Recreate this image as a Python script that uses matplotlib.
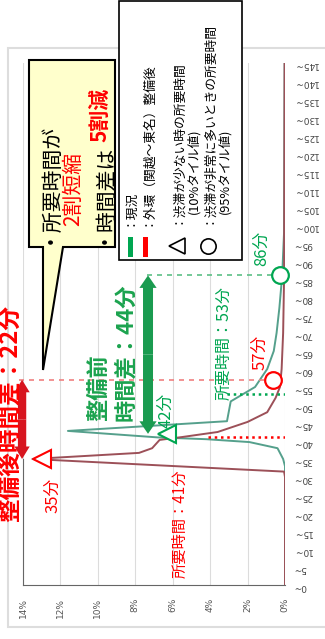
import matplotlib
matplotlib.use('Agg')
import matplotlib.pyplot as plt
from matplotlib.patches import Rectangle, Polygon

# 日本語フォント
plt.rcParams['font.family'] = ['Noto Sans CJK JP', 'DejaVu Sans']

# --- データ ---
minute_ticks = list(range(0, 150, 5))
minute_labels = [f'{m}~' for m in minute_ticks]
pct_ticks = [0, 2, 4, 6, 8, 10, 12, 14]
pct_labels = [f'{v}%' for v in pct_ticks]

# 現況（緑）
before_t = [0, 33, 35, 38, 39.7, 40.5, 41, 42.8, 45.5, 51, 55, 60, 65, 70, 77, 86, 98, 145]
before_p = [0, 0, 0.1, 0.4, 1.9, 4.2, 6.8, 11.6, 3.1, 2.9, 1.6, 0.95, 0.6, 0.45, 0.3, 0.15, 0.05, 0.02]

# 外環整備後（赤）
after_t = [0, 30, 31.5, 35, 36.7, 38, 40.3, 41.1, 42.5, 45.3, 48, 52, 55, 60, 70, 85, 145]
after_p = [0, 0, 0.05, 13.5, 7.8, 7.1, 6.7, 5.5, 3.6, 2.0, 0.95, 0.5, 0.27, 0.18, 0.1, 0.05, 0.02]

# 代表値（分）
before_p10, before_mid, before_p95 = 42, 53, 86
after_p10, after_mid, after_p95 = 35, 41, 57

# 色
RED = '#ff0000'
GREEN = '#00a651'
GREEN_B = '#1ba34e'
RED_ARROW = '#d7151f'

W, H = 325, 639
fig = plt.figure(figsize=(W / 100, H / 100), dpi=100)

# 外枠
frame = fig.add_axes([0, 0, 1, 1], zorder=0)
frame.set_xlim(0, W); frame.set_ylim(H, 0); frame.axis('off')
frame.add_patch(Rectangle((8, 48), 330, 579, fc='white', ec='#dddddd', lw=1.5))

# --- メイングラフ ---
ax = fig.add_axes([23 / W, 1 - 585 / H, 262 / W, 522 / H], zorder=1)
ax.patch.set_alpha(0)
ax.plot(before_p, before_t, color='#55a08c', lw=1.4, zorder=3)
ax.plot(after_p, after_t, color='#9c5058', lw=1.4, zorder=3)
ax.set_xlim(14, 0)
ax.set_ylim(0, 145)
ax.grid(axis='x', color='#dcdcdc', lw=0.8)
ax.set_axisbelow(True)
for s in ['top', 'right']:
    ax.spines[s].set_visible(False)
ax.spines['bottom'].set_color('#666666')
ax.spines['left'].set_color('#666666')
ax.spines['left'].set_bounds(0, after_p10)

ax.yaxis.tick_right()
ax.set_yticks(minute_ticks, minute_labels, rotation=180, fontsize=6.5, color='#444444',
              family='DejaVu Sans')
ax.set_xticks(pct_ticks, pct_labels, rotation=90, fontsize=6.5, color='#555555',
              family='DejaVu Sans')
ax.tick_params(axis='both', length=0)
ax.tick_params(axis='y', pad=6)
ax.tick_params(axis='x', pad=9)

# 補助線
ax.plot([14.2, 0.64], [after_p95] * 2, ls=(0, (3, 3)), color='#f08080', lw=1.2, clip_on=False, zorder=4)
ax.plot([7.4, 0.27], [before_p95] * 2, ls=(0, (3, 3)), color='#5cbf85', lw=1.2, zorder=4)
ax.plot([4.1, 0], [after_mid] * 2, ls=(0, (1, 1.5)), color=RED, lw=1.8, zorder=4)
ax.plot([3.1, 0], [before_mid] * 2, ls=(0, (1, 1.5)), color=GREEN, lw=1.8, zorder=4)

# 矢印（中央から両方向）
def double_arrow(p, t1, t2, color, tw, hw, hl):
    mid = (t1 + t2) / 2
    style = f'simple,tail_width={tw},head_width={hw},head_length={hl}'
    for end in (t1, t2):
        ax.annotate('', xy=(p, end), xytext=(p, mid), annotation_clip=False,
                    arrowprops=dict(arrowstyle=style, color=color, lw=0,
                                    shrinkA=0, shrinkB=0, mutation_scale=20,
                                    clip_on=False), zorder=6)

double_arrow(14.05, after_p95, after_p10, RED_ARROW, 0.3, 0.55, 0.45)
double_arrow(7.32, before_p95, before_p10, '#1a9b50', 0.36, 0.62, 0.45)

# マーカー
ax.plot(0.64, after_p95, 'o', ms=12, mfc='white', mec=RED, mew=1.6, clip_on=False, zorder=7)
ax.plot(0.27, before_p95, 'o', ms=12, mfc='white', mec=GREEN, mew=1.6, clip_on=False, zorder=7)
ax.plot(13.0, after_p10, '<', ms=13, mfc='white', mec=RED, mew=1.5, clip_on=False, zorder=7)
ax.plot(6.3, before_p10, '<', ms=13, mfc='white', mec=GREEN, mew=1.5, clip_on=False, zorder=7)

# --- 注記（ピクセル座標） ---
ov = fig.add_axes([0, 0, 1, 1], zorder=5)
ov.set_xlim(0, W); ov.set_ylim(H, 0); ov.axis('off')
ov.patch.set_alpha(0)

def vtext(x, y, s, **kw):
    return ov.text(x, y, s, rotation=90, ha='center', va='bottom', **kw)

vtext(262, 266, f'{before_p95}分', color=GREEN, fontsize=12)
vtext(224, 400, f'所要時間：{before_mid}分', color=GREEN, fontsize=11.5)
vtext(260, 370, f'{after_p95}分', color=RED, fontsize=12)
vtext(166, 428, f'{before_p10}分', color=GREEN, fontsize=12)
vtext(53, 513, f'{after_p10}分', color=RED, fontsize=12)
vtext(180, 578, f'所要時間：{after_mid}分', color=RED, fontsize=11)
vtext(10, 522, f'整備後時間差：{after_p95 - after_p10}分', color=RED, fontsize=17, fontweight='bold')
vtext(99, 421, '整備前', color=GREEN_B, fontsize=16, fontweight='bold')
vtext(126, 421, f'時間差：{before_p95 - before_p10}分', color=GREEN_B, fontsize=16, fontweight='bold')

# 吹き出し
ov.add_patch(Polygon([(29, 60), (115, 60), (115, 247), (63, 247), (43, 370), (43, 247), (29, 247)],
                     closed=True, fc='#ffffcc', ec='black', lw=1.5))
vtext(46, 244, '・所要時間が', color='black', fontsize=15)
vtext(73, 226, '2割短縮', color=RED, fontsize=15)
t1 = vtext(100, 244, '・時間差は', color='black', fontsize=15)
fig.canvas.draw()
bb = t1.get_window_extent(fig.canvas.get_renderer())
ytop = ov.transData.inverted().transform((bb.x0, bb.y1))[1]
vtext(100, ytop + 2, '5割減', color=RED, fontsize=15, fontweight='bold')

# 凡例
ov.add_patch(Rectangle((119, 1), 123, 259, fc='white', ec='black', lw=1.2))
ov.add_patch(Rectangle((128, 237), 5, 20, fc=GREEN, ec='none'))
ov.add_patch(Rectangle((143, 237), 5, 20, fc=RED, ec='none'))
ov.plot(177, 246, '<', ms=11, mfc='white', mec='black', mew=1.2)
ov.plot(208, 246, 'o', ms=11, mfc='white', mec='black', mew=1.2)
vtext(128, 226, '：現況', color='black', fontsize=9.2)
vtext(146, 226, '：外環（関越～東名）整備後', color='black', fontsize=9.2)
vtext(176, 224, '：渋滞が少ない時の所要時間', color='black', fontsize=9.2)
vtext(194, 214, '(10%タイル値)', color='black', fontsize=9.2)
vtext(207, 224, '：渋滞が非常に多いときの所要時間', color='black', fontsize=9.2)
vtext(225, 214, '(95%タイル値)', color='black', fontsize=9.2)

fig.savefig('out.png', dpi=100)
